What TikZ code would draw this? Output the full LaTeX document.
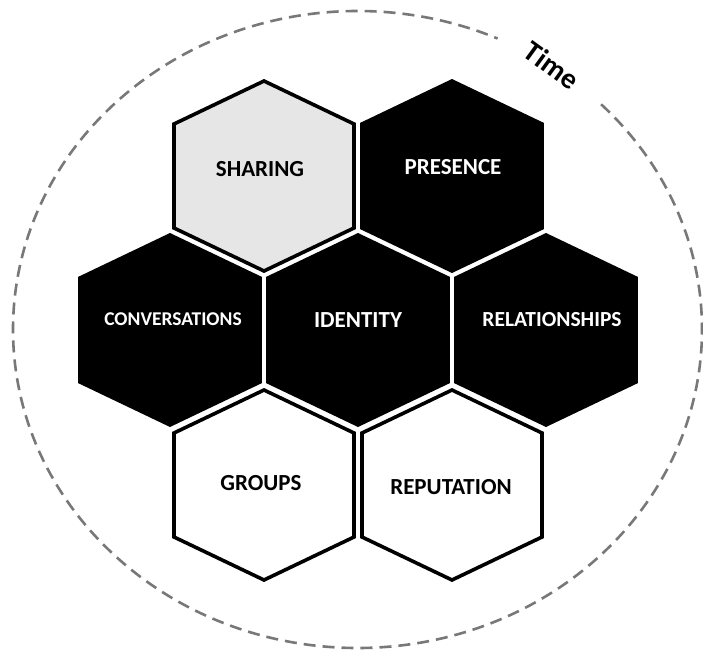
\documentclass[tikz,border=0pt]{standalone}
\usepackage{fontspec}
\setmainfont{Carlito}
\definecolor{hexgrayfill}{RGB}{230,230,230}
\definecolor{dashgray}{RGB}{120,120,120}
\newcommand\hexcellpath{++(-90,-52) -- ++(90,-43) -- ++(90,43) -- ++(0,104) -- ++(-90,43) -- ++(-90,-43) -- cycle}
\begin{document}
\begin{tikzpicture}[x=1pt,y=-1pt,
  hexbase/.style={draw=black, line width=3.6pt, line join=miter},
  hexdark/.style={hexbase, fill=black},
  hexgray/.style={hexbase, fill=hexgrayfill},
  hexwhite/.style={hexbase, fill=white},
  lbl/.style={font=\bfseries\fontsize{23}{26}\selectfont, inner sep=0pt},
  lbldark/.style={lbl, text=black},
  lbllight/.style={lbl, text=white},
  timering/.style={draw=dashgray, line width=2.6pt, dash pattern=on 12pt off 7pt}]
\useasboundingbox (0,0) rectangle (703,650);
% ring
\coordinate (ringc) at (357.5,329.5);
\draw[timering] (ringc) ++(-45:344.5 and 318.5) arc[start angle=-45, end angle=294, x radius=344.5, y radius=318.5];
\node[rotate=-36, font=\bfseries\fontsize{29}{32}\selectfont, inner sep=0pt] (time) at (552,65) {Time};
% hexagons
\draw[hexgray]  (264,176) \hexcellpath;
\draw[hexdark]  (452,176) \hexcellpath;
\draw[hexdark]  (170,330) \hexcellpath;
\draw[hexdark]  (358,330) \hexcellpath;
\draw[hexdark]  (546,330) \hexcellpath;
\draw[hexwhite] (264,485) \hexcellpath;
\draw[hexwhite] (452,485) \hexcellpath;
% labels
\node[lbldark]  (sharing)   at (260,169) {SHARING};
\node[lbllight] (presence)  at (453,167) {PRESENCE};
\node[lbllight, font=\bfseries\fontsize{19.5}{22}\selectfont] (conv) at (173,319) {CONVERSATIONS};
\node[lbllight] (identity)  at (358,320) {IDENTITY};
\node[lbllight, font=\bfseries\fontsize{21.5}{24}\selectfont] (relations) at (552,320) {RELATIONSHIPS};
\node[lbldark]  (groups)    at (261,483) {GROUPS};
\node[lbldark]  (reputation) at (451,487) {REPUTATION};
\end{tikzpicture}
\end{document}
